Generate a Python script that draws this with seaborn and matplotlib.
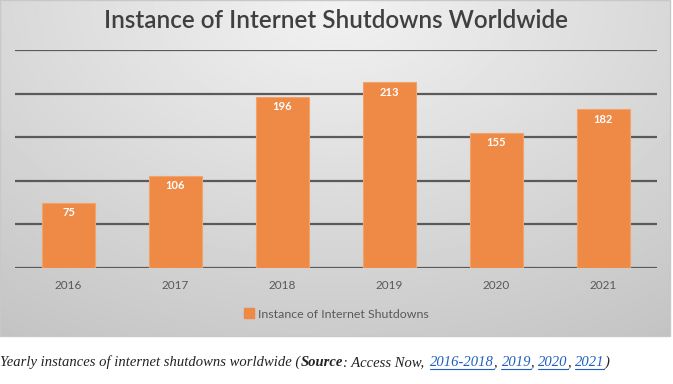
import numpy as np
import pandas as pd
import seaborn as sns
import matplotlib.pyplot as plt
from matplotlib.patches import Rectangle
from matplotlib.lines import Line2D

# data
years = ['2016', '2017', '2018', '2019', '2020', '2021']
shutdowns = [75, 106, 196, 213, 155, 182]
series_name = 'Instance of Internet Shutdowns'

df = pd.DataFrame({'Year': years, 'Shutdowns': shutdowns})

sns.set_style('white')
plt.rcParams['font.family'] = ['Lato', 'DejaVu Sans']

fig = plt.figure(figsize=(6.73, 3.84), dpi=100)
W, H = 673, 384

# chart box with a soft grey gradient
bg = fig.add_axes([0, (H - 336) / H, 670 / W, 336 / H])
yy, xx = np.mgrid[0:1:200j, 0:1:400j]
r = np.sqrt(((xx - 0.5) * 1.2) ** 2 + (yy * 0.9) ** 2)
bg.imshow(0.95 - 0.17 * r, cmap='gray', vmin=0, vmax=1, aspect='auto',
          extent=[0, 1, 0, 1], origin='upper')
bg.set_axis_off()
fig.patches.append(Rectangle((0, (H - 336) / H), 670 / W, 336 / H, transform=fig.transFigure,
                             fill=False, edgecolor='#c8c8c8', linewidth=1))

ax = fig.add_axes([15 / W, (H - 268) / H, 642 / W, 218 / H])
ax.patch.set_alpha(0)
sns.barplot(data=df, x='Year', y='Shutdowns', color='#ee8a46', width=0.5,
            edgecolor='#f3a36a', linewidth=0.8, saturation=1, ax=ax, zorder=3,
            label=series_name)
ax.set_ylim(0, 250)
ax.set_yticks(range(0, 251, 50))
ax.yaxis.grid(True, color='#5a5a5a', linewidth=1.6, zorder=0)
ax.set_axisbelow(True)
ax.set_xlim(-0.5, len(years) - 0.5)
ax.set_xlabel('')
ax.set_ylabel('')
ax.tick_params(axis='y', left=False, labelleft=False)
ax.tick_params(axis='x', bottom=False, labelsize=8.5, labelcolor='#595959', pad=5)
for s in ax.spines.values():
    s.set_visible(False)

for cont in ax.containers:
    ax.bar_label(cont, labels=[str(v) for v in shutdowns], label_type='edge',
                 padding=-11, color='white', fontsize=8, fontweight='bold')

ax.legend(handles=[Rectangle((0, 0), 1, 1, color='#ee8a46')], labels=[series_name],
          loc='center', bbox_to_anchor=(0.5, (H - 314) / H), bbox_transform=fig.transFigure,
          frameon=False, fontsize=8.9, labelcolor='#595959', handlelength=0.8,
          handleheight=0.8, handletextpad=0.3)

fig.text(0.5, (H - 20) / H, 'Instance of Internet Shutdowns Worldwide', ha='center',
         va='center', fontsize=17.5, fontweight='semibold', color='#404040')

# caption made of several styled pieces: (text, weight, colour, underlined, extra gap px)
pieces = [
    ('Yearly instances of internet shutdowns worldwide (', 'normal', '#222222', False, 0),
    ('Source', 'bold', '#222222', False, 0),
    (': Access Now, ', 'normal', '#222222', False, 3),
    ('2016-2018', 'normal', '#1f5fbf', True, 0),
    (', ', 'normal', '#222222', False, 0),
    ('2019', 'normal', '#1f5fbf', True, 0),
    (', ', 'normal', '#222222', False, 0),
    ('2020', 'normal', '#1f5fbf', True, 0),
    (', ', 'normal', '#222222', False, 0),
    ('2021', 'normal', '#1f5fbf', True, 0),
    (')', 'normal', '#222222', False, 0),
]
renderer = fig.canvas.get_renderer()
base_y = (H - 366) / H
x = 0.0
for txt, weight, col, link, gap in pieces:
    t = fig.text(x, base_y, txt, fontsize=10.5, style='italic', fontweight=weight, color=col,
                 family='Liberation Serif', va='baseline', ha='left')
    bb = t.get_window_extent(renderer).transformed(fig.transFigure.inverted())
    if link:
        uy = base_y - 2.5 / H
        fig.lines.append(Line2D([bb.x0, bb.x1], [uy, uy], transform=fig.transFigure,
                                color=col, linewidth=0.8))
    x = bb.x1 + gap / W

fig.savefig('out.png', dpi=100)
